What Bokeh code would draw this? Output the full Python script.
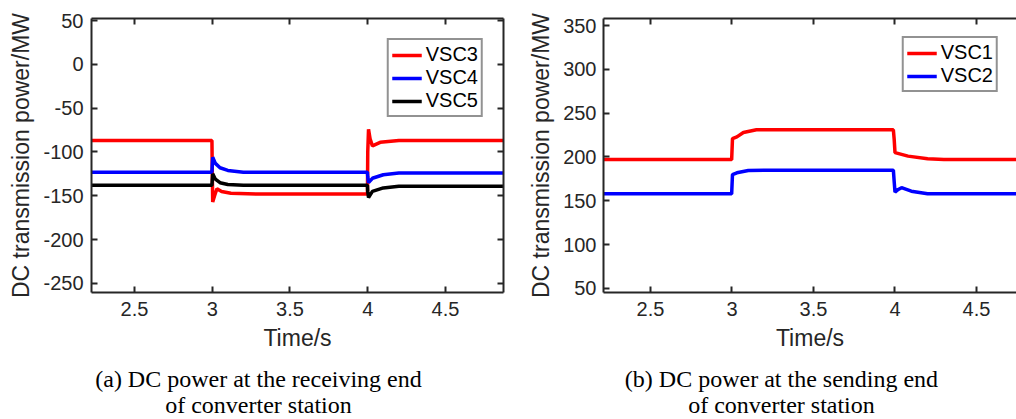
from bokeh.plotting import figure
from bokeh.models import Range1d, LinearAxis, FixedTicker, NumeralTickFormatter, Div
from bokeh.layouts import row, column
from bokeh.embed import file_html
from bokeh.resources import INLINE

# ---------------- data: (a) receiving end ----------------
t_vsc3 = [2.22, 2.998, 3.0, 3.003, 3.015, 3.03, 3.06, 3.12, 3.3, 3.998, 4.0, 4.005, 4.015, 4.03, 4.08, 4.2, 4.88]
p_vsc3 = [-87, -87, -120, -157, -150, -142, -145, -147, -148, -148, -100, -74, -85, -93, -89, -87, -87]

t_vsc4 = [2.22, 2.998, 3.0, 3.003, 3.02, 3.05, 3.1, 3.2, 3.998, 4.0, 4.005, 4.03, 4.1, 4.2, 4.88]
p_vsc4 = [-123, -123, -115, -106, -113, -118, -121, -123, -123, -128, -135, -130, -126, -124, -124]

t_vsc5 = [2.22, 2.998, 3.0, 3.003, 3.02, 3.05, 3.1, 3.2, 3.998, 4.0, 4.005, 4.03, 4.1, 4.2, 4.88]
p_vsc5 = [-138, -138, -132, -125, -131, -135, -137, -138, -138, -145, -152, -145, -141, -139, -139]

# ---------------- data: (b) sending end ----------------
t_vsc1 = [2.2, 2.998, 3.003, 3.03, 3.07, 3.15, 3.5, 3.99, 3.995, 4.0, 4.04, 4.08, 4.2, 4.3, 4.8]
p_vsc1 = [197, 197, 221, 223, 228, 231, 231, 231, 220, 205, 203, 201, 198, 197, 197]

t_vsc2 = [2.2, 2.998, 3.003, 3.03, 3.1, 3.2, 3.5, 3.99, 3.995, 4.0, 4.02, 4.04, 4.1, 4.2, 4.8]
p_vsc2 = [158, 158, 180, 182, 184.5, 185, 185, 185, 172, 160, 163, 165, 161, 158, 158]

x_ticks = [2.5, 3, 3.5, 4, 4.5]
y_ticks_a = [50, 0, -50, -100, -150, -200, -250]
y_ticks_b = [50, 100, 150, 200, 250, 300, 350]

captions_a = ["(a) DC power at the receiving end", "of converter station"]
captions_b = ["(b) DC power at the sending end", "of converter station"]

AX = "#262626"
SANS = "Liberation Sans"
SERIF = "Liberation Serif"
TOP = 18
FRAME_H = 274
H = 357
CAP_H = 62


def style_axis(ax, labels=True):
    ax.axis_line_color = AX
    ax.axis_line_width = 2
    ax.major_tick_line_color = AX
    ax.major_tick_line_width = 2
    ax.major_tick_in = 6
    ax.major_tick_out = 0
    ax.minor_tick_line_color = None
    if labels:
        ax.major_label_text_font = SANS
        ax.major_label_text_font_size = "20px"
        ax.major_label_text_color = AX
        ax.axis_label_text_font = SANS
        ax.axis_label_text_font_size = "23px"
        ax.axis_label_text_font_style = "normal"
        ax.axis_label_text_color = AX
    else:
        ax.major_label_text_font_size = "1px"
        ax.major_label_text_color = None
        ax.major_label_standoff = 0


def make_fig(width, bl, br, xr, yr, yticks, right_box, ytick_standoff):
    p = figure(width=width, height=H, x_range=Range1d(*xr), y_range=Range1d(*yr),
               output_backend="svg", toolbar_location=None,
               min_border_left=bl, min_border_right=br, min_border_top=TOP,
               min_border_bottom=H - TOP - FRAME_H,
               x_axis_label="Time/s", y_axis_label="DC transmission power/MW")
    p.outline_line_color = None
    p.grid.visible = False
    p.background_fill_color = "white"
    p.border_fill_color = "white"
    p.xaxis.ticker = FixedTicker(ticks=x_ticks)
    p.xaxis.formatter = NumeralTickFormatter(format="0.[0]")
    p.yaxis.ticker = FixedTicker(ticks=yticks)
    p.yaxis.formatter = NumeralTickFormatter(format="0")
    for ax in p.xaxis + p.yaxis:
        style_axis(ax)
    p.xaxis.major_label_standoff = 9
    p.yaxis.major_label_standoff = ytick_standoff
    p.xaxis.axis_label_standoff = 6
    p.yaxis.axis_label_standoff = 6
    top = LinearAxis(ticker=FixedTicker(ticks=x_ticks))
    style_axis(top, labels=False)
    p.add_layout(top, "above")
    if right_box:
        rax = LinearAxis(ticker=FixedTicker(ticks=yticks))
        style_axis(rax, labels=False)
        p.add_layout(rax, "right")
    return p


def caption(lines, width, pad_left):
    return Div(text="<br>".join(lines), width=width, height=CAP_H, margin=0,
               styles={"font-family": SERIF, "font-size": "24px", "line-height": "26px",
                       "text-align": "center", "color": "black",
                       "padding-left": f"{pad_left}px", "padding-top": "9px",
                       "box-sizing": "border-box", "white-space": "nowrap"})


pa = make_fig(508, 91, 5, (2.2235, 4.873), (-260.3, 52.3), y_ticks_a, True, 8)
pa.line(t_vsc3, p_vsc3, color="#FF0000", line_width=3.5, legend_label="VSC3")
pa.line(t_vsc4, p_vsc4, color="#0000FF", line_width=3.5, legend_label="VSC4")
pa.line(t_vsc5, p_vsc5, color="#000000", line_width=3.5, legend_label="VSC5")

pb = make_fig(508, 95, 0, (2.2117, 4.7454), (45.4, 358.0), y_ticks_b, False, 7)
pb.line(t_vsc1, p_vsc1, color="#FF0000", line_width=3.5, legend_label="VSC1")
pb.line(t_vsc2, p_vsc2, color="#0000FF", line_width=3.5, legend_label="VSC2")

for p, m in ((pa, 20), (pb, 18)):
    lg = p.legend[0]
    lg.location = "top_right"
    lg.margin = m
    lg.border_line_color = AX
    lg.border_line_width = 2
    lg.padding = 3
    lg.spacing = 0
    lg.label_height = 22
    lg.glyph_height = 22
    lg.glyph_width = 30
    lg.label_standoff = 4
    lg.label_text_font = SANS
    lg.label_text_font_size = "20px"
    lg.label_text_color = "black"
    lg.background_fill_color = "white"

layout = column(row(pa, pb, spacing=0),
                row(caption(captions_a, 508, 9), caption(captions_b, 508, 39), spacing=0),
                spacing=0)
open("out.html", "w").write(file_html(layout, INLINE))
